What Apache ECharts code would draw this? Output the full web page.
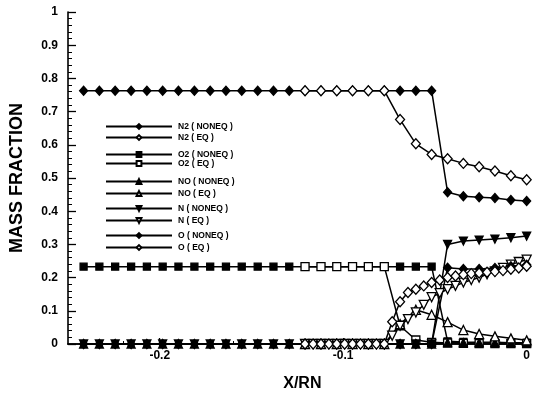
<!DOCTYPE html>
<html>
<head>
<meta charset="utf-8">
<script src="https://cdn.jsdelivr.net/npm/echarts@6/dist/echarts.min.js"></script>
<style>
  html, body { margin: 0; padding: 0; background: #fff; }
  #chart { width: 533px; height: 397px; }
</style>
</head>
<body>
<div id="chart"></div>
<script>
// Stations along the body axis (X/RN) for the non-equilibrium solution
const xStations = [
  -0.2415, -0.2329, -0.2243, -0.2156, -0.2070, -0.1984, -0.1898, -0.1811,
  -0.1725, -0.1639, -0.1553, -0.1466, -0.1380, -0.1294, -0.1208, -0.1121,
  -0.1035, -0.0949, -0.0863, -0.0776, -0.0690, -0.0604, -0.0518, -0.0431,
  -0.0345, -0.0259, -0.0173, -0.0086, 0.0000
];
// Stations used by the equilibrium N2, O2 and NO curves
const xEqStations = [
  -0.1208, -0.1121, -0.1035, -0.0949, -0.0863, -0.0776, -0.0690, -0.0604,
  -0.0518, -0.0431, -0.0345, -0.0259, -0.0173, -0.0086, 0.0000
];
// Finer stations used by the equilibrium N and O curves
const xEqFine = [
  -0.1208, -0.1164, -0.1121, -0.1078, -0.1035, -0.0992, -0.0949, -0.0906,
  -0.0863, -0.0819, -0.0776, -0.0733, -0.0690, -0.0647, -0.0604, -0.0561,
  -0.0518, -0.0474, -0.0431, -0.0388, -0.0345, -0.0302, -0.0259, -0.0216,
  -0.0173, -0.0129, -0.0086, -0.0043, 0.0000
];

// Non-equilibrium mass fractions
const n2NonEq = [
  0.763, 0.763, 0.763, 0.763, 0.763, 0.763, 0.763, 0.763, 0.763, 0.763,
  0.763, 0.763, 0.763, 0.763, 0.763, 0.763, 0.763, 0.763, 0.763, 0.763,
  0.763, 0.763, 0.763, 0.457, 0.445, 0.442, 0.440, 0.434, 0.431
];
const o2NonEq = [
  0.233, 0.233, 0.233, 0.233, 0.233, 0.233, 0.233, 0.233, 0.233, 0.233,
  0.233, 0.233, 0.233, 0.233, 0.233, 0.233, 0.233, 0.233, 0.233, 0.233,
  0.233, 0.233, 0.233, 0.008, 0.006, 0.005, 0.005, 0.004, 0.004
];
const noNonEq = [
  0, 0, 0, 0, 0, 0, 0, 0, 0, 0, 0, 0, 0, 0, 0, 0, 0, 0, 0, 0,
  0, 0, 0, 0.004, 0.004, 0.004, 0.004, 0.004, 0.004
];
const nNonEq = [
  0, 0, 0, 0, 0, 0, 0, 0, 0, 0, 0, 0, 0, 0, 0, 0, 0, 0, 0, 0,
  0, 0, 0, 0.300, 0.310, 0.313, 0.316, 0.320, 0.325
];
const oNonEq = [
  0, 0, 0, 0, 0, 0, 0, 0, 0, 0, 0, 0, 0, 0, 0, 0, 0, 0, 0, 0,
  0, 0, 0, 0.230, 0.226, 0.226, 0.229, 0.234, 0.239
];

// Equilibrium mass fractions
const n2Eq = [0.763, 0.763, 0.763, 0.763, 0.763, 0.763, 0.676, 0.603, 0.571, 0.558, 0.544, 0.534, 0.521, 0.507, 0.495];
const o2Eq = [0.233, 0.233, 0.233, 0.233, 0.233, 0.233, 0.055, 0.012, 0.005, 0.003, 0.002, 0.001, 0.001, 0.001, 0.001];
const noEq = [0, 0, 0, 0, 0, 0, 0.060, 0.103, 0.088, 0.066, 0.042, 0.030, 0.023, 0.017, 0.011];
const nEq = [
  0, 0, 0, 0, 0, 0, 0, 0, 0, 0, 0, 0.025, 0.055, 0.075, 0.095, 0.118,
  0.141, 0.153, 0.165, 0.175, 0.185, 0.193, 0.200, 0.210, 0.219, 0.229,
  0.239, 0.247, 0.254
];
const oEq = [
  0, 0, 0, 0, 0, 0, 0, 0, 0, 0, 0, 0.067, 0.127, 0.155, 0.165, 0.175,
  0.185, 0.193, 0.200, 0.205, 0.209, 0.212, 0.214, 0.216, 0.218, 0.221,
  0.225, 0.229, 0.234
];

// Axis ticks
const xTickValues = [-0.2, -0.1, 0];
const xMinorTickValues = [-0.24, -0.22, -0.18, -0.16, -0.14, -0.12, -0.08, -0.06, -0.04, -0.02];

const seriesNames = [
  'N2 ( NONEQ )', 'N2 ( EQ )', 'O2 ( NONEQ )', 'O2 ( EQ )', 'NO ( NONEQ )',
  'NO ( EQ )', 'N ( NONEQ )', 'N ( EQ )', 'O ( NONEQ )', 'O ( EQ )'
];

const FONT = '"Liberation Sans", Arial, sans-serif';

function pairs(xs, ys) {
  return ys.map((y, i) => [xs[i], y]);
}

function curve(name, xs, ys, symbol, filled, opts) {
  opts = opts || {};
  return {
    name: name,
    type: 'line',
    data: pairs(xs, ys),
    symbol: symbol,
    symbolSize: opts.size || 8,
    symbolRotate: opts.rotate || 0,
    showAllSymbol: true,
    clip: false,
    lineStyle: { color: '#000', width: 1.5 },
    itemStyle: {
      color: filled ? '#000' : '#fff',
      borderColor: '#000',
      borderWidth: 1.3
    },
    emphasis: { disabled: true },
    animation: false
  };
}

const series = [
  curve(seriesNames[0], xStations, n2NonEq, 'diamond', true, { size: [8, 9] }),
  curve(seriesNames[1], xEqStations, n2Eq, 'diamond', false, { size: [9, 10] }),
  curve(seriesNames[2], xStations, o2NonEq, 'rect', true, { size: 7 }),
  curve(seriesNames[3], xEqStations, o2Eq, 'rect', false, { size: 8 }),
  curve(seriesNames[4], xStations, noNonEq, 'triangle', true, { size: 8 }),
  curve(seriesNames[5], xEqStations, noEq, 'triangle', false, { size: 9 }),
  curve(seriesNames[6], xStations, nNonEq, 'triangle', true, { size: 8, rotate: 180 }),
  curve(seriesNames[7], xEqFine, nEq, 'triangle', false, { size: 9, rotate: 180 }),
  curve(seriesNames[8], xStations, oNonEq, 'diamond', true, { size: [8, 9] }),
  curve(seriesNames[9], xEqFine, oEq, 'diamond', false, { size: [9, 10] })
];

// Legend entries are grouped in pairs (NONEQ / EQ) per species
const legendTops = [122, 150, 177, 204, 231];
const legendGaps = [2, 0, 3, 3, 3];
const legends = legendTops.map((top, i) => ({
  orient: 'vertical',
  left: 105,
  top: top,
  padding: 0,
  itemWidth: 66,
  itemHeight: 6,
  itemGap: legendGaps[i],
  selectedMode: false,
  data: [seriesNames[2 * i], seriesNames[2 * i + 1]],
  textStyle: {
    fontFamily: FONT,
    fontSize: 8.5,
    fontWeight: 'bold',
    color: '#000',
    lineHeight: 6,
    padding: [0, 0, 0, 1]
  }
}));

const chart = echarts.init(document.getElementById('chart'), null, { renderer: 'canvas' });
chart.setOption({
  animation: false,
  backgroundColor: '#fff',
  grid: { left: 67, right: 6, top: 12, bottom: 46 },
  legend: legends,
  xAxis: [
    {
      type: 'value',
      min: -0.25,
      max: 0,
      position: 'bottom',
      name: 'X/RN',
      nameLocation: 'middle',
      nameGap: 32,
      nameTextStyle: { fontFamily: FONT, fontSize: 16, fontWeight: 'bold', color: '#000', padding: [0, 0, 0, 10] },
      axisLine: { show: true, onZero: false, lineStyle: { color: '#000', width: 1.6 } },
      axisTick: { show: true, inside: true, length: 6, customValues: xTickValues, lineStyle: { color: '#000', width: 1.3 } },
      axisLabel: {
        show: true,
        customValues: xTickValues,
        margin: 6,
        fontFamily: FONT,
        fontSize: 12,
        fontWeight: 'bold',
        color: '#000',
        hideOverlap: false
      },
      splitLine: { show: false }
    },
    {
      // carries only the short intermediate ticks along the bottom edge
      type: 'value',
      min: -0.25,
      max: 0,
      position: 'bottom',
      axisLine: { show: true, onZero: false, lineStyle: { color: '#000', width: 1.6 } },
      axisTick: { show: true, inside: true, length: 3, customValues: xMinorTickValues, lineStyle: { color: '#000', width: 1 } },
      axisLabel: { show: false },
      splitLine: { show: false }
    }
  ],
  yAxis: {
    type: 'value',
    min: 0,
    max: 1,
    interval: 0.1,
    position: 'left',
    name: 'MASS FRACTION',
    nameLocation: 'middle',
    nameRotate: 90,
    nameGap: 42,
    nameTextStyle: { fontFamily: FONT, fontSize: 18, fontWeight: 'bold', color: '#000' },
    axisLine: { show: true, onZero: false, lineStyle: { color: '#000', width: 1.6 } },
    axisTick: { show: true, inside: true, length: 8, lineStyle: { color: '#000', width: 1.3 } },
    minorTick: { show: true, splitNumber: 5, length: 4, lineStyle: { color: '#000', width: 1 } },
    axisLabel: {
      margin: 10,
      fontFamily: FONT,
      fontSize: 12,
      fontWeight: 'bold',
      color: '#000',
      formatter: v => String(Math.round(v * 10) / 10)
    },
    splitLine: { show: false }
  },
  series: series
});
</script>
</body>
</html>
